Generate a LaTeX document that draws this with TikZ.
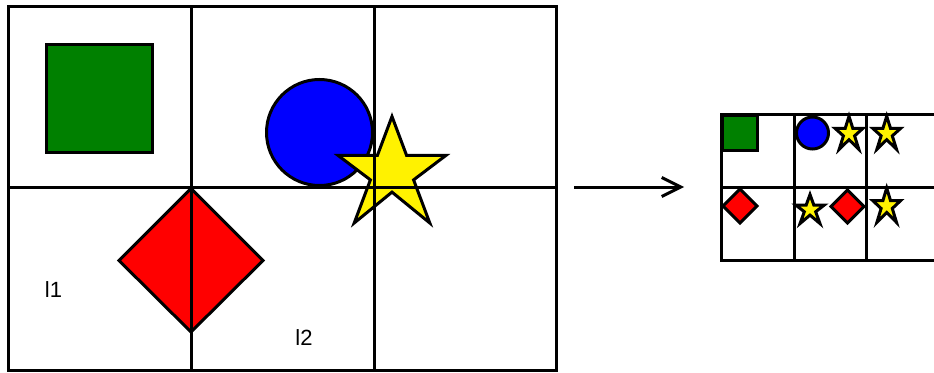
\documentclass[tikz,border=0pt]{standalone}
\usepackage{fontspec}
\setmainfont{Liberation Sans}
\usetikzlibrary{arrows.meta}
\tikzset{
  gridline/.style={line width=3pt, draw=black},
  shapeline/.style={line width=3pt, draw=black, line join=miter},
  starpic/.pic={
    \path[shapeline, fill=yellow] (0,-1) -- (0.27,-0.27) -- (1,-0.27) -- (0.40,0.19) -- (0.70,1)
      -- (0,0.42) -- (-0.70,1) -- (-0.40,0.19) -- (-1,-0.27) -- (-0.27,-0.27) -- cycle;
  },
  lbl/.style={font=\fontsize{22}{26}\selectfont, inner sep=0pt},
  arrowline/.style={line width=3pt, -{Straight Barb[length=19pt,width=19pt]}},
}
\begin{document}
\begin{tikzpicture}[x=1pt, y=-1pt]
\clip (0,0) rectangle (934,372);
\fill[white] (0,0) rectangle (934,372);
% ---- left big grid shapes ----
\path[shapeline, fill={rgb,255:red,0;green,128;blue,0}] (46.5,44.5) rectangle (152.5,152.5);
\node[shapeline, fill=blue, circle, minimum size=106pt, inner sep=0pt] (bigcircle) at (319.5,132.5) {};
\pic (bigstar) [xscale=54, yscale=53.25] at (392,169.75) {starpic};
\path[shapeline, fill=red] (191,188.5) -- (263,260.5) -- (191,332) -- (119,260.5) -- cycle;
% ---- left grid ----
\draw[gridline] (8,6) rectangle (556,370);
\draw[gridline] (191,6) -- (191,370);
\draw[gridline] (374,6) -- (374,370);
\draw[gridline] (8,187.5) -- (556,187.5);
\node[lbl] (l1) at (53.5,289.5) {l1};
\node[lbl] (l2) at (304,337.5) {l2};
% ---- right small grid shapes ----
\path[shapeline, fill={rgb,255:red,0;green,128;blue,0}] (722,115) rectangle (757,150.5);
\node[shapeline, fill=blue, circle, minimum size=32pt, inner sep=0pt] (smallcircle) at (812.5,133) {};
\pic (star1) [xscale=14, yscale=16.5] at (849,132.75) {starpic};
\pic (star2) [xscale=14, yscale=16.5] at (886.7,132.75) {starpic};
\path[shapeline, fill=red] (740,189) -- (757,206) -- (740,223) -- (723,206) -- cycle;
\pic (star3) [xscale=14.2, yscale=14.5] at (810,209) {starpic};
\path[shapeline, fill=red] (847.5,190) -- (864,206.5) -- (847.5,223) -- (831,206.5) -- cycle;
\pic (star4) [xscale=14, yscale=17.2] at (886.7,205.2) {starpic};
% ---- right grid ----
\draw[gridline] (721,114) rectangle (940,260);
\draw[gridline] (794,114) -- (794,260);
\draw[gridline] (866.5,114) -- (866.5,260);
\draw[gridline] (721,187.3) -- (940,187.3);
% ---- arrow ----
\coordinate (arrowstart) at (574,187);
\coordinate (arrowend) at (684,187);
\draw[arrowline] (arrowstart) -- (arrowend);
\end{tikzpicture}
\end{document}
